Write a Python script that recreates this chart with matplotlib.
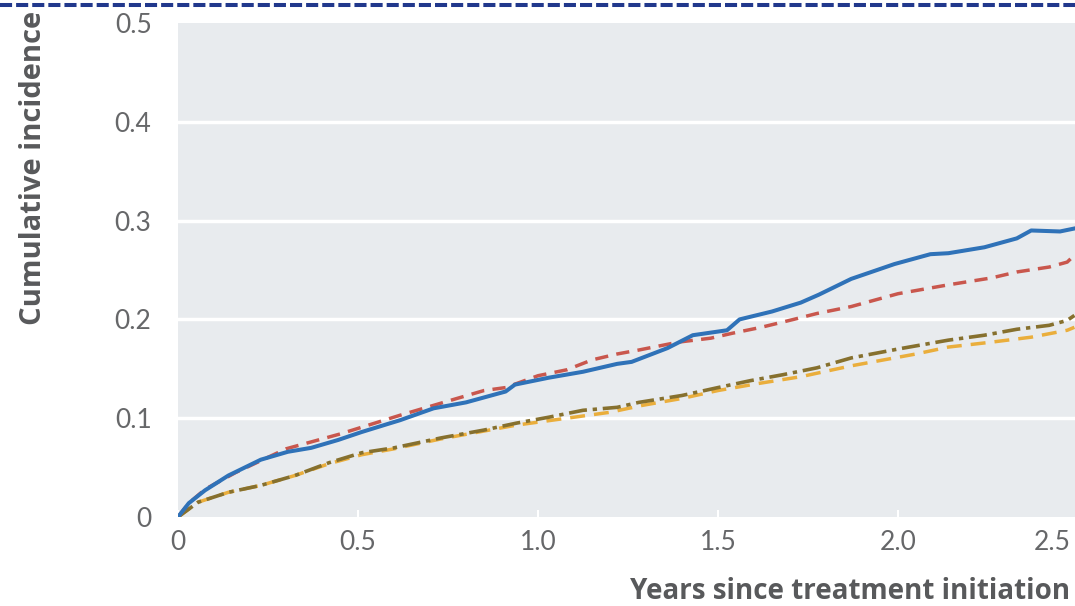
import numpy as np
import matplotlib.pyplot as plt
from matplotlib.lines import Line2D

# cumulative incidence curves, read per group
t_blue = [0, 0.03, 0.075, 0.14, 0.23, 0.305, 0.37, 0.445, 0.51, 0.59, 0.617, 0.71, 0.80,
          0.91, 0.936, 1.03, 1.125, 1.22, 1.26, 1.36, 1.43, 1.525, 1.56, 1.65, 1.73, 1.78,
          1.87, 1.99, 2.09, 2.14, 2.24, 2.33, 2.37, 2.45, 2.49]
ci_blue = [0, 0.014, 0.027, 0.042, 0.058, 0.066, 0.070, 0.078, 0.086, 0.095, 0.098, 0.110,
           0.116, 0.127, 0.134, 0.141, 0.147, 0.155, 0.157, 0.171, 0.184, 0.189, 0.200, 0.208,
           0.217, 0.225, 0.241, 0.256, 0.266, 0.267, 0.273, 0.282, 0.290, 0.289, 0.292]

t_red = [0, 0.03, 0.075, 0.16, 0.30, 0.38, 0.45, 0.617, 0.775, 0.85, 0.91, 1.0, 1.08, 1.15,
         1.22, 1.28, 1.39, 1.48, 1.54, 1.62, 1.71, 1.775, 1.87, 2.0, 2.14, 2.26, 2.33, 2.42,
         2.47, 2.49]
ci_red = [0, 0.014, 0.028, 0.045, 0.069, 0.077, 0.084, 0.103, 0.120, 0.128, 0.131, 0.143,
          0.149, 0.159, 0.165, 0.169, 0.177, 0.181, 0.186, 0.192, 0.200, 0.206, 0.213, 0.226,
          0.235, 0.242, 0.248, 0.253, 0.258, 0.265]

t_olive = [0, 0.056, 0.14, 0.23, 0.325, 0.42, 0.51, 0.60, 0.73, 0.85, 0.94, 1.03, 1.125,
           1.22, 1.28, 1.40, 1.50, 1.59, 1.68, 1.775, 1.87, 2.0, 2.14, 2.24, 2.33, 2.42,
           2.47, 2.49]
ci_olive = [0, 0.015, 0.025, 0.032, 0.042, 0.055, 0.065, 0.070, 0.080, 0.088, 0.095, 0.101,
            0.108, 0.111, 0.116, 0.123, 0.131, 0.138, 0.144, 0.151, 0.161, 0.170, 0.179,
            0.184, 0.190, 0.194, 0.199, 0.204]

t_orange = [0, 0.056, 0.14, 0.23, 0.325, 0.42, 0.51, 0.60, 0.73, 0.85, 0.94, 1.08, 1.20,
            1.29, 1.40, 1.50, 1.61, 1.73, 1.87, 2.05, 2.14, 2.26, 2.37, 2.47, 2.49]
ci_orange = [0, 0.015, 0.025, 0.032, 0.042, 0.054, 0.063, 0.069, 0.079, 0.087, 0.093, 0.100,
             0.106, 0.113, 0.120, 0.128, 0.135, 0.142, 0.153, 0.165, 0.172, 0.177, 0.182,
             0.189, 0.192]

xticks = [0, 0.5, 1.0, 1.5, 2.0, 2.5]
xtick_labels = ['0', '0.5', '1.0', '1.5', '2.0', '2.5']
yticks = [0, 0.1, 0.2, 0.3, 0.4, 0.5]
ytick_labels = ['0', '0.1', '0.2', '0.3', '0.4', '0.5']

tick_grey = '#666769'
label_grey = '#58595b'

fig = plt.figure(figsize=(10.75, 6.06), dpi=100)
ax = fig.add_axes([178 / 1075, 89 / 606, (2.52 * 360) / 1075, 494 / 606])
ax.set_facecolor('#e8ebee')
for s in ax.spines.values():
    s.set_visible(False)

ax.set_xlim(0, 2.52)
ax.set_ylim(0, 0.5)
ax.set_yticks(yticks, labels=ytick_labels)
ax.set_xticks(xticks, labels=xtick_labels[:-1] + [''])
for y in yticks[1:-1]:
    ax.axhline(y, color='white', lw=2.5, zorder=1)

ax.tick_params(axis='y', length=0, pad=19, labelsize=19, labelcolor=tick_grey)
ax.tick_params(axis='x', direction='in', length=5, width=1.5, color='white', pad=9,
               labelsize=19, labelcolor=tick_grey)
for lbl in ax.get_xticklabels() + ax.get_yticklabels():
    lbl.set_fontfamily('Lato')
for lbl in ax.get_yticklabels():
    lbl.set_verticalalignment('center_baseline')
ax.annotate(xtick_labels[-1], xy=(xticks[-1], 0), xycoords=('data', 'axes fraction'),
            xytext=(-5, -9), textcoords='offset points', ha='right', va='top',
            fontsize=19, color=tick_grey, family='Lato')

ax.plot(t_orange, ci_orange, color='#eaae3c', lw=2.5, ls=(0, (4.3, 2.6)), zorder=3)
ax.plot(t_olive, ci_olive, color='#86702e', lw=2.6, ls=(0, (5.0, 1.6, 1.2, 1.6)), zorder=4)
ax.plot(t_red, ci_red, color='#c9574d', lw=2.5, ls=(0, (3.8, 2.4)), zorder=5)
ax.plot(t_blue, ci_blue, color='#2f72b8', lw=2.9, zorder=6)

fig.text(34 / 1075, 1 - 168 / 606, 'Cumulative incidence', rotation=90, ha='center',
         va='center', fontsize=21, fontweight='bold', color=label_grey, family='Open Sans')
fig.text(1070 / 1075, 7 / 606, 'Years since treatment initiation', ha='right',
         va='baseline', fontsize=20, fontweight='bold', color=label_grey, family='Open Sans')

# dashed rule across the top
fig.add_artist(Line2D([0, 1], [1 - 5 / 606, 1 - 5 / 606], transform=fig.transFigure,
                      color='#21388c', lw=2.9, ls=(0, (3, 1))))

fig.savefig('out.png', dpi=100)
